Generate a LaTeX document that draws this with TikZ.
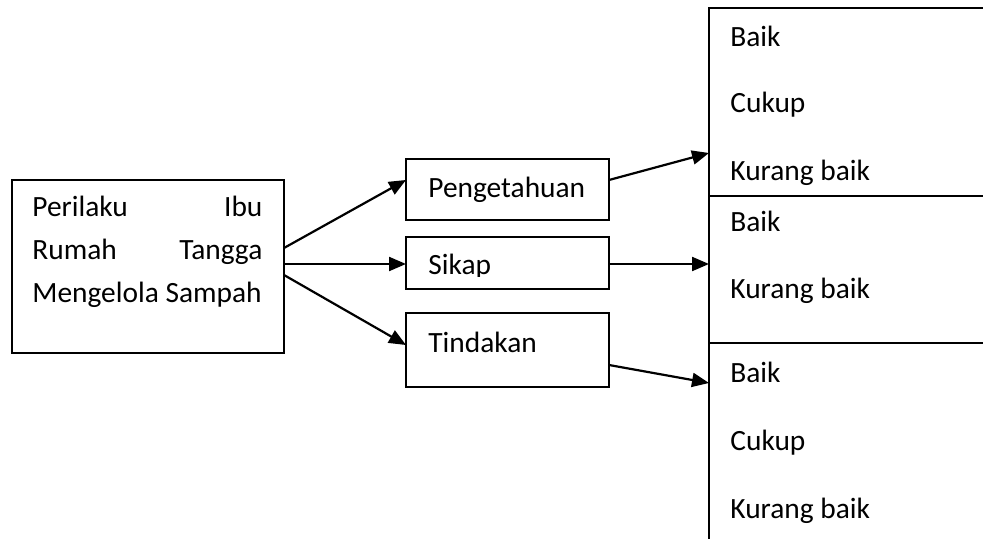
\documentclass[tikz,border=0pt]{standalone}
\usepackage{fontspec}
\setmainfont{Carlito}
\usetikzlibrary{arrows.meta,calc}
\begin{document}
\begin{tikzpicture}[x=0.5pt,y=-0.5pt,
  box/.style={draw,line width=1.1pt,inner sep=0pt,outer sep=0pt,anchor=north west},
  lbl/.style={anchor=base west,inner sep=0pt,font=\fontsize{14.7}{17}\selectfont},
  arr/.style={line width=1.1pt,-{Triangle[length=8.5pt,width=7pt]}}]
\useasboundingbox (0,0) rectangle (983,539);
\clip (0,0) rectangle (983,539);

% left box
\node[box,minimum width=136pt,minimum height=86.5pt] (L) at (12,180) {};
\node[lbl] (l1) at (32,217) {\makebox[115pt][s]{Perilaku\hfill Ibu}};
\node[lbl] (l2) at (32,260) {\makebox[115pt][s]{Rumah\hfill Tangga}};
\node[lbl] (l3) at (32,302) {Mengelola Sampah};

% middle boxes
\node[box,minimum width=101.5pt,minimum height=30.5pt] (pg) at (406,159) {};
\node[box,minimum width=101.5pt,minimum height=26pt] (sk) at (406,237) {};
\node[box,minimum width=101.5pt,minimum height=37pt] (td) at (406,313) {};
\node[lbl] (tpg) at (428,198) {Pengetahuan};
\begin{scope}
  \clip (400,240) rectangle (600,277);
  \node[lbl] (tsk) at (428,275) {Sikap};
\end{scope}
\node[lbl] (ttd) at (428,352) {Tindakan};

% right boxes
\node[box,minimum width=150pt,minimum height=94pt] (r1) at (709,8) {};
\node[box,minimum width=150pt,minimum height=73.5pt] (r2) at (709,196) {};
\node[box,minimum width=150pt,minimum height=110pt] (r3) at (709,343) {};

\node[lbl] (a1) at (730,47) {Baik};
\node[lbl] (a2) at (730,113) {Cukup};
\begin{scope}
  \clip (715,150) rectangle (980,186);
  \node[lbl] (a3) at (730,181) {Kurang baik};
\end{scope}
\node[lbl] (b1) at (730,232) {Baik};
\node[lbl] (b2) at (730,299) {Kurang baik};
\node[lbl] (c1) at (730,382) {Baik};
\node[lbl] (c2) at (730,450) {Cukup};
\node[lbl] (c3) at (730,518) {Kurang baik};

% arrows
\draw[arr] ($(L.north east)+(0,68)$) -- ($(pg.north west)+(0,21)$);
\draw[arr] ($(L.north east)+(0,84)$) -- ($(sk.north west)+(0,27)$);
\draw[arr] ($(L.north east)+(0,95)$) -- ($(td.north west)+(0,32)$);
\draw[arr] ($(pg.north east)+(0,21)$) -- ($(r1.north west)+(0,145)$);
\draw[arr] ($(sk.north east)+(0,27)$) -- ($(r2.north west)+(0,68)$);
\draw[arr] ($(td.north east)+(0,52)$) -- ($(r3.north west)+(0,40)$);
\end{tikzpicture}
\end{document}
